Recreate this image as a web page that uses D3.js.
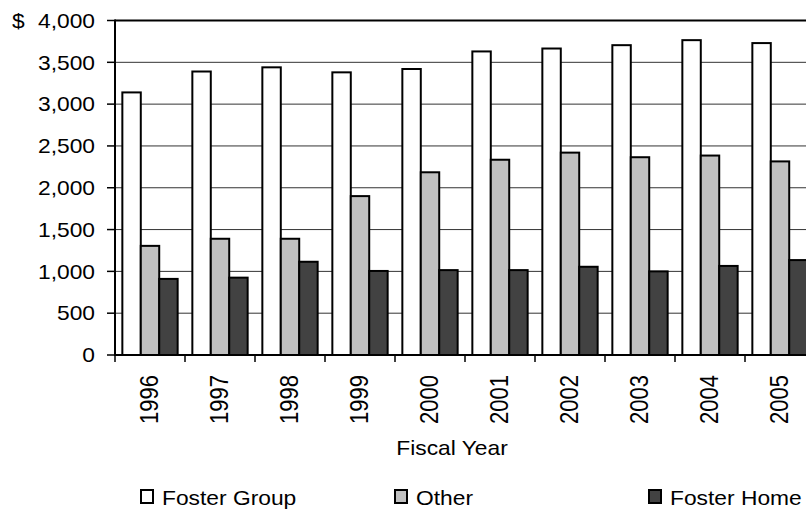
<!DOCTYPE html>
<html><head><meta charset="utf-8">
<script src="https://cdn.jsdelivr.net/npm/d3@7"></script>
<style>
body{margin:0;background:#fff;}
text{font-family:"Liberation Sans",Arial,sans-serif;fill:#000;}
</style></head>
<body>
<svg id="chart" width="806" height="512"></svg>
<script>
const years = ["1996","1997","1998","1999","2000","2001","2002","2003","2004","2005"];
const seriesNames = ["Foster Group","Other","Foster Home"];
const fosterGroup = [3140,3390,3440,3380,3420,3630,3665,3705,3765,3730];
const other = [1305,1390,1390,1900,2185,2335,2420,2365,2385,2315];
const fosterHome = [910,925,1115,1005,1015,1015,1055,1000,1065,1135];
const yTicks = [0,500,1000,1500,2000,2500,3000,3500,4000];
const colors = ["#ffffff","#c0c0c0","#424242"];
const seriesValues = [fosterGroup, other, fosterHome];

const svg = d3.select("#chart");
const L = 115, R = 815, T = 20.5, B = 355;
const SX = 1.14;

const x0 = d3.scaleBand().domain(years).range([L, R]).padding(0);
const bw = x0.bandwidth();
const x1 = d3.scaleBand().domain(seriesNames).range([bw*0.105, bw*0.895]).padding(0);
const y = d3.scaleLinear().domain([0, 4000]).range([B, T]);

// gridlines
svg.append("g").selectAll("line").data(yTicks.filter(d => d > 0 && d < 4000)).join("line")
  .attr("x1", L).attr("x2", R).attr("y1", d => y(d)).attr("y2", d => y(d))
  .attr("stroke", "#333").attr("stroke-width", 1);

// bars
const data = years.map((yr, i) => ({yr, vals: seriesNames.map((s, j) => ({s, j, v: seriesValues[j][i]}))}));
svg.append("g").selectAll("g").data(data).join("g")
  .attr("transform", d => `translate(${x0(d.yr)},0)`)
  .selectAll("rect").data(d => d.vals).join("rect")
  .attr("x", d => x1(d.s)).attr("width", x1.bandwidth())
  .attr("y", d => y(d.v)).attr("height", d => B - y(d.v))
  .attr("fill", d => colors[d.j]).attr("stroke", "#000").attr("stroke-width", 2);

// axes / frame
svg.append("line").attr("x1", L).attr("x2", R).attr("y1", T).attr("y2", T).attr("stroke", "#000").attr("stroke-width", 2);
svg.append("line").attr("x1", L).attr("x2", L).attr("y1", T-1).attr("y2", B+1).attr("stroke", "#000").attr("stroke-width", 2);
svg.append("line").attr("x1", R).attr("x2", R).attr("y1", T).attr("y2", B).attr("stroke", "#000").attr("stroke-width", 2);
svg.append("line").attr("x1", L-1).attr("x2", R).attr("y1", B).attr("y2", B).attr("stroke", "#000").attr("stroke-width", 2);

// y ticks & labels
const yAxis = svg.append("g");
yAxis.selectAll("line").data(yTicks).join("line")
  .attr("x1", L-8).attr("x2", L).attr("y1", d => y(d)).attr("y2", d => y(d))
  .attr("stroke", "#000").attr("stroke-width", 1.5);
yAxis.selectAll("text").data(yTicks).join("text")
  .attr("transform", d => `translate(95,${y(d)}) scale(${SX},1)`)
  .attr("dy", "0.36em").attr("text-anchor", "end").attr("font-size", 20)
  .text(d => d3.format(",")(d));
svg.append("text").attr("transform", `translate(12,${y(4000)}) scale(${SX},1)`)
  .attr("dy", "0.36em").attr("font-size", 20).text("$");

// x ticks at band boundaries
const xb = years.map(d => x0(d)).concat([R]);
svg.append("g").selectAll("line").data(xb).join("line")
  .attr("x1", d => d).attr("x2", d => d).attr("y1", B).attr("y2", B+7)
  .attr("stroke", "#000").attr("stroke-width", 1.5);
svg.append("g").selectAll("text").data(years).join("text")
  .attr("transform", d => `translate(${x0(d) + bw/2 - 1.5},375) scale(${SX},1) rotate(-90)`)
  .attr("text-anchor", "end").attr("dy", "0.36em").attr("font-size", 22)
  .text(d => d);

// axis title
svg.append("text").attr("transform", `translate(452,455) scale(${SX},1)`)
  .attr("text-anchor", "middle").attr("font-size", 20).text("Fiscal Year");

// legend
const lg = svg.append("g").selectAll("g").data(seriesNames).join("g")
  .attr("transform", (d, i) => `translate(${141 + 254*i},490)`);
lg.append("rect").attr("x", 0).attr("y", 0).attr("width", 12).attr("height", 13)
  .attr("fill", (d, i) => colors[i]).attr("stroke", "#000").attr("stroke-width", 2);
lg.append("text").attr("transform", `translate(21,14.5) scale(${SX},1)`)
  .attr("font-size", 20).text(d => d);
</script>
</body></html>
